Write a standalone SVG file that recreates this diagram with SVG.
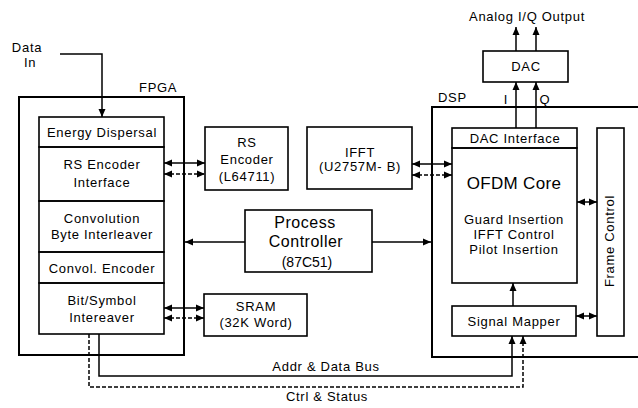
<svg xmlns="http://www.w3.org/2000/svg" width="638" height="408" viewBox="0 0 638 408">
<defs>
<marker id="ah" viewBox="0 0 8 8" refX="8" refY="4" markerWidth="8" markerHeight="8" markerUnits="userSpaceOnUse" orient="auto-start-reverse">
<path d="M0,0.5 L8,4 L0,7.5 Z" fill="#000"/>
</marker>
</defs>
<style>
.box{fill:none;stroke:#000;stroke-width:1.6}
.outer{fill:none;stroke:#000;stroke-width:2}
.ln{fill:none;stroke:#000;stroke-width:1.5}
.dash{fill:none;stroke:#000;stroke-width:1.5;stroke-dasharray:4 2}
text{font-family:"Liberation Sans",Arial,sans-serif;font-size:13px;letter-spacing:0.7px;fill:#000;text-anchor:middle}
.lbl{text-anchor:start}
.big{font-size:17px;letter-spacing:0.3px}
.mid{font-size:16px;letter-spacing:0.5px}
.sm{font-size:14px;letter-spacing:0}
</style>
<rect width="638" height="408" fill="#fff"/>

<g id="data-in">
<text x="27" y="52" letter-spacing="1.2">Data</text>
<text x="30" y="67">In</text>
</g>

<g id="fpga">
<rect class="outer" x="19" y="97" width="165" height="258"/>
<text class="lbl" x="139" y="92" letter-spacing="1.5">FPGA</text>
</g>

<g id="energy-dispersal">
<rect class="box" x="39" y="117" width="125" height="30"/>
<text x="102" y="137">Energy Dispersal</text>
</g>
<g id="rs-encoder-interface">
<rect class="box" x="39" y="147" width="125" height="54"/>
<text x="102" y="169">RS Encoder</text>
<text x="102" y="187">Interface</text>
</g>
<g id="convolution-byte-interleaver">
<rect class="box" x="39" y="201" width="125" height="51"/>
<text x="102" y="223">Convolution</text>
<text x="102" y="239">Byte Interleaver</text>
</g>
<g id="convol-encoder">
<rect class="box" x="39" y="252" width="125" height="31"/>
<text x="102" y="273">Convol. Encoder</text>
</g>
<g id="bit-symbol-interleaver">
<rect class="box" x="39" y="283" width="125" height="51"/>
<text x="102" y="305">Bit/Symbol</text>
<text x="102" y="322">Intereaver</text>
</g>

<g id="rs-encoder">
<rect class="box" x="205" y="127" width="83" height="63"/>
<text x="247" y="147">RS</text>
<text x="247" y="164">Encoder</text>
<text x="247" y="181">(L64711)</text>
</g>

<g id="ifft">
<rect class="box" x="307" y="127" width="105" height="62"/>
<text x="360" y="157">IFFT</text>
<text x="360" y="171" letter-spacing="1.2">(U2757M- B)</text>
</g>

<g id="process-controller">
<rect class="box" x="245" y="210" width="127" height="62"/>
<text class="mid" x="305" y="228">Process</text>
<text class="mid" x="306" y="247">Controller</text>
<text class="sm" x="307" y="267">(87C51)</text>
</g>

<g id="sram">
<rect class="box" x="204" y="294" width="103" height="42"/>
<text x="256" y="311">SRAM</text>
<text x="256" y="327">(32K Word)</text>
</g>

<g id="dsp">
<path class="outer" d="M640,107 H432 V357 H640"/>
<text class="lbl" x="438" y="102" letter-spacing="1.2">DSP</text>
</g>

<g id="dac-interface">
<rect class="box" x="452" y="128" width="125" height="20"/>
<text x="515" y="143">DAC Interface</text>
</g>
<g id="ofdm-core">
<rect class="box" x="452" y="148" width="125" height="135"/>
<text class="big" x="514" y="189">OFDM Core</text>
<text x="514" y="224">Guard Insertion</text>
<text x="514" y="239">IFFT Control</text>
<text x="514" y="254">Pilot Insertion</text>
</g>
<g id="signal-mapper">
<rect class="box" x="452" y="306" width="124" height="30"/>
<text x="514" y="326">Signal Mapper</text>
</g>
<g id="frame-control">
<rect class="box" x="597" y="128" width="27" height="208"/>
<text x="0" y="0" font-size="12.5" letter-spacing="0.3" transform="translate(614,241) rotate(-90)">Frame Control</text>
</g>

<g id="dac">
<rect class="box" x="483" y="51" width="85" height="31"/>
<text x="526" y="71" letter-spacing="1.5">DAC</text>
</g>
<g id="analog-output">
<text x="527" y="21" letter-spacing="1.5">Analog I/Q Output</text>
</g>

<g id="connectors">
<path class="ln" d="M60,54 H102 V117" marker-end="url(#ah)"/>
<line class="ln" x1="164" y1="163" x2="205" y2="163" marker-start="url(#ah)" marker-end="url(#ah)"/>
<line class="dash" x1="164" y1="174" x2="205" y2="174" marker-start="url(#ah)" marker-end="url(#ah)"/>
<line class="ln" x1="412" y1="164" x2="452" y2="164" marker-start="url(#ah)" marker-end="url(#ah)"/>
<line class="dash" x1="412" y1="175" x2="452" y2="175" marker-start="url(#ah)" marker-end="url(#ah)"/>
<line class="ln" x1="164" y1="308" x2="204" y2="308" marker-start="url(#ah)" marker-end="url(#ah)"/>
<line class="dash" x1="164" y1="318" x2="204" y2="318" marker-start="url(#ah)" marker-end="url(#ah)"/>
<line class="ln" x1="245" y1="242" x2="185" y2="242" marker-end="url(#ah)"/>
<line class="ln" x1="372" y1="242" x2="431" y2="242" marker-end="url(#ah)"/>
<line class="ln" x1="577" y1="202" x2="597" y2="202" marker-start="url(#ah)" marker-end="url(#ah)"/>
<line class="ln" x1="576" y1="316" x2="597" y2="316" marker-start="url(#ah)" marker-end="url(#ah)"/>
<line class="ln" x1="513" y1="306" x2="513" y2="283" marker-end="url(#ah)"/>
<line class="ln" x1="516" y1="128" x2="516" y2="82" marker-end="url(#ah)"/>
<line class="ln" x1="536" y1="128" x2="536" y2="82" marker-end="url(#ah)"/>
<line class="ln" x1="516" y1="51" x2="516" y2="27" marker-end="url(#ah)"/>
<line class="ln" x1="536" y1="51" x2="536" y2="27" marker-end="url(#ah)"/>
<text x="506" y="104">I</text>
<text x="545" y="104">Q</text>
<path class="ln" d="M99,334 V376 H512 V336" marker-end="url(#ah)"/>
<path class="dash" d="M89,334 V387 H523 V336" marker-end="url(#ah)"/>
<text x="326" y="371">Addr &amp; Data Bus</text>
<text x="327" y="401">Ctrl &amp; Status</text>
</g>
</svg>
